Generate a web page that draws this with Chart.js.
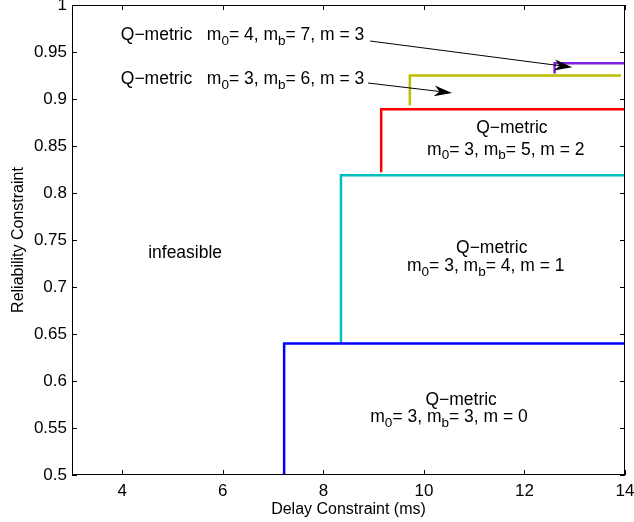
<!DOCTYPE html>
<html>
<head>
<meta charset="utf-8">
<script src="https://cdn.jsdelivr.net/npm/chart.js@4/dist/chart.umd.min.js"></script>
<style>
  body { margin: 0; background: #fff; }
  #wrap { width: 634px; height: 522px; position: relative; }
</style>
</head>
<body>
<div id="wrap"><canvas id="chart"></canvas></div>
<script>
// step curves: delay constraint (x) vs reliability constraint (y)
const blueX = [7.22, 7.22, 14];
const blueY = [0.5, 0.64, 0.64];
const cyanX = [8.35, 8.35, 14];
const cyanY = [0.64, 0.819, 0.819];
const redX = [9.15, 9.15, 14];
const redY = [0.822, 0.889, 0.889];
const yellowX = [9.72, 9.72, 13.92];
const yellowY = [0.893, 0.925, 0.925];
const purpleX = [12.6, 12.6, 14];
const purpleY = [0.927, 0.938, 0.938];

const xTicks = [4, 6, 8, 10, 12, 14];
const yTicks = [0.5, 0.55, 0.6, 0.65, 0.7, 0.75, 0.8, 0.85, 0.9, 0.95, 1];

const FONT = "'Liberation Sans', Arial, Helvetica, sans-serif";

const pts = (xs, ys) => xs.map((x, i) => ({ x: x, y: ys[i] }));
const line = (xs, ys, color) => ({
    data: pts(xs, ys),
    borderColor: color,
    borderWidth: 2.5,
    pointRadius: 0,
    showLine: true,
    fill: false,
    tension: 0
});

// text labels, placed in data units
const notes = [
    { x: 3.97, y: 0.968, align: "left", parts: [["Q\u2212metric   m"], ["0", 1], ["= 4, m"], ["b", 1], ["= 7, m = 3"]] },
    { x: 3.97, y: 0.921, align: "left", parts: [["Q\u2212metric   m"], ["0", 1], ["= 3, m"], ["b", 1], ["= 6, m = 3"]] },
    { x: 11.75, y: 0.869, align: "center", parts: [["Q\u2212metric"]] },
    { x: 11.63, y: 0.846, align: "center", parts: [["m"], ["0", 1], ["= 3, m"], ["b", 1], ["= 5, m = 2"]] },
    { x: 11.35, y: 0.7415, align: "center", parts: [["Q\u2212metric"]] },
    { x: 11.23, y: 0.7223, align: "center", parts: [["m"], ["0", 1], ["= 3, m"], ["b", 1], ["= 4, m = 1"]] },
    { x: 5.25, y: 0.736, align: "center", parts: [["infeasible"]] },
    { x: 10.74, y: 0.5798, align: "center", parts: [["Q\u2212metric"]] },
    { x: 10.5, y: 0.5617, align: "center", parts: [["m"], ["0", 1], ["= 3, m"], ["b", 1], ["= 3, m = 0"]] }
];
const arrows = [
    { x1: 8.93, y1: 0.9617, x2: 12.95, y2: 0.9337 },
    { x1: 8.89, y1: 0.917, x2: 10.56, y2: 0.9064 }
];

const decor = {
    id: "decor",
    afterDatasetsDraw(chart) {
        const ctx = chart.ctx;
        const a = chart.chartArea;
        const xs = chart.scales.x, ys = chart.scales.y;
        ctx.save();
        // frame and inward ticks
        ctx.strokeStyle = "#000";
        ctx.lineWidth = 1;
        ctx.strokeRect(a.left + 0.5, a.top + 0.5, a.right - a.left - 1, a.bottom - a.top - 1);
        ctx.beginPath();
        xTicks.forEach(v => {
            const px = Math.round(xs.getPixelForValue(v)) + 0.5;
            ctx.moveTo(px, a.bottom); ctx.lineTo(px, a.bottom - 5);
            ctx.moveTo(px, a.top); ctx.lineTo(px, a.top + 5);
        });
        yTicks.forEach(v => {
            const py = Math.round(ys.getPixelForValue(v)) + 0.5;
            ctx.moveTo(a.left, py); ctx.lineTo(a.left + 5, py);
            ctx.moveTo(a.right, py); ctx.lineTo(a.right - 5, py);
        });
        ctx.stroke();

        // labels with subscripts
        ctx.fillStyle = "#000";
        ctx.textBaseline = "middle";
        const big = "17.5px " + FONT, small = "13.5px " + FONT;
        notes.forEach(n => {
            let w = 0;
            n.parts.forEach(p => { ctx.font = p[1] ? small : big; w += ctx.measureText(p[0]).width; });
            let px = xs.getPixelForValue(n.x);
            const py = ys.getPixelForValue(n.y);
            if (n.align === "center") px -= w / 2;
            ctx.textAlign = "left";
            n.parts.forEach(p => {
                ctx.font = p[1] ? small : big;
                ctx.fillText(p[0], px, p[1] ? py + 6 : py);
                px += ctx.measureText(p[0]).width;
            });
        });

        // arrows
        arrows.forEach(r => {
            const x1 = xs.getPixelForValue(r.x1), y1 = ys.getPixelForValue(r.y1);
            const x2 = xs.getPixelForValue(r.x2), y2 = ys.getPixelForValue(r.y2);
            const ang = Math.atan2(y2 - y1, x2 - x1);
            const len = 18, half = 5.5;
            ctx.beginPath();
            ctx.moveTo(x1, y1);
            ctx.lineTo(x2 - Math.cos(ang) * 10, y2 - Math.sin(ang) * 10);
            ctx.stroke();
            const bx = x2 - Math.cos(ang) * len, by = y2 - Math.sin(ang) * len;
            const nx = -Math.sin(ang) * half, ny = Math.cos(ang) * half;
            const mx = x2 - Math.cos(ang) * len * 0.7, my = y2 - Math.sin(ang) * len * 0.7;
            ctx.beginPath();
            ctx.moveTo(x2, y2);
            ctx.lineTo(bx + nx, by + ny);
            ctx.lineTo(mx, my);
            ctx.lineTo(bx - nx, by - ny);
            ctx.closePath();
            ctx.fill();
        });
        ctx.restore();
    }
};

new Chart(document.getElementById("chart"), {
    type: "scatter",
    data: {
        datasets: [
            line(blueX, blueY, "#0000ff"),
            line(cyanX, cyanY, "#00bfbf"),
            line(redX, redY, "#ff0000"),
            line(yellowX, yellowY, "#bfbf00"),
            line(purpleX, purpleY, "#7f1fe6")
        ]
    },
    options: {
        responsive: true,
        maintainAspectRatio: false,
        animation: false,
        layout: { padding: { left: 0, right: 9, top: 5, bottom: 0 } },
        plugins: { legend: { display: false }, tooltip: { enabled: false } },
        scales: {
            x: {
                type: "linear",
                min: 3,
                max: 14,
                afterBuildTicks: s => { s.ticks = xTicks.map(v => ({ value: v })); },
                afterFit: s => { s.height = 47; s.paddingLeft = 0; s.paddingRight = 0; },
                grid: { display: false, drawTicks: false },
                border: { display: false },
                ticks: { color: "#000", padding: 6, maxRotation: 0, font: { family: FONT, size: 17 } },
                title: { display: true, text: "Delay Constraint (ms)", color: "#000", padding: { top: 0, bottom: 3 }, font: { family: FONT, size: 16 } }
            },
            y: {
                type: "linear",
                min: 0.5,
                max: 1,
                afterBuildTicks: s => { s.ticks = yTicks.map(v => ({ value: v })); },
                afterFit: s => { s.width = 72; s.paddingTop = 0; s.paddingBottom = 0; },
                grid: { display: false, drawTicks: false },
                border: { display: false },
                ticks: { color: "#000", padding: 5, callback: v => String(+v.toFixed(2)), font: { family: FONT, size: 17 } },
                title: { display: true, text: "Reliability Constraint", color: "#000", padding: { top: 9, bottom: 0 }, font: { family: FONT, size: 16 } }
            }
        }
    },
    plugins: [decor]
});
</script>
</body>
</html>
